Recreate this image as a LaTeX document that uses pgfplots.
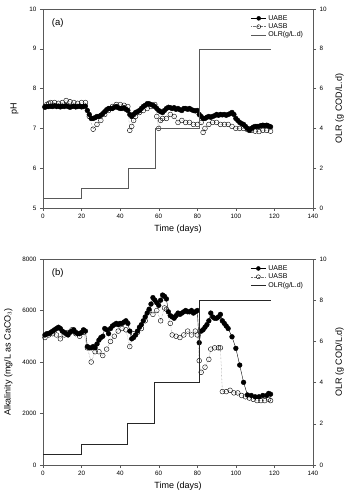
\documentclass[border=0pt]{standalone}
\usepackage{pgfplots}
\pgfplotsset{compat=1.18}
\usepackage{pgfplotstable}
\usepackage{fontspec}
\setmainfont{Liberation Sans}
\pgfplotstableread{
d ph
1 7.53
2 7.55
3 7.55
4 7.56
5 7.55
6 7.57
7 7.55
8 7.56
9 7.54
10 7.56
11 7.55
12 7.57
13 7.55
14 7.53
15 7.55
16 7.56
17 7.54
18 7.55
19 7.56
20 7.54
21 7.55
22 7.56
23 7.45
24 7.35
25 7.25
26 7.25
27 7.27
28 7.3
29 7.3
30 7.33
31 7.37
32 7.42
33 7.47
34 7.5
35 7.5
36 7.5
37 7.53
38 7.55
39 7.52
40 7.5
41 7.5
42 7.52
43 7.48
44 7.45
45 7.35
46 7.3
47 7.35
48 7.4
49 7.42
50 7.45
51 7.5
52 7.55
53 7.58
54 7.62
55 7.62
56 7.6
57 7.58
58 7.55
59 7.5
60 7.45
61 7.42
62 7.4
63 7.45
64 7.5
65 7.53
66 7.52
67 7.5
68 7.52
69 7.48
70 7.5
71 7.47
72 7.45
73 7.5
74 7.5
75 7.48
76 7.5
77 7.47
78 7.45
79 7.44
80 7.45
81 7.35
82 7.3
83 7.25
84 7.25
85 7.28
86 7.3
87 7.28
88 7.3
89 7.32
90 7.35
91 7.33
92 7.35
93 7.34
94 7.35
95 7.33
96 7.35
97 7.37
98 7.4
99 7.35
100 7.25
101 7.2
102 7.15
103 7.12
104 7.1
105 7.05
106 7.0
107 6.95
108 7.0
109 7.03
110 7.05
111 7.05
112 7.05
113 7.07
114 7.08
115 7.07
116 7.08
117 7.06
118 7.04
}\phABE
\pgfplotstableread{
d ph
1 7.55
2 7.6
3 7.63
4 7.65
6 7.65
8 7.63
10 7.65
12 7.7
14 7.67
16 7.65
18 7.63
20 7.65
22 7.65
24 7.3
26 6.98
28 7.1
30 7.2
32 7.35
34 7.45
36 7.55
38 7.6
40 7.6
42 7.58
44 7.55
45 6.95
46 7.05
47 7.2
48 7.3
50 7.4
52 7.45
54 7.5
56 7.55
58 7.6
59 7.3
60 7.0
61 7.2
62 7.25
64 7.25
66 7.35
68 7.3
70 7.15
72 7.2
74 7.15
76 7.15
78 7.1
80 7.1
82 7.15
83 6.9
84 7.0
86 7.1
88 7.15
90 7.15
92 7.1
94 7.1
96 7.1
98 7.05
100 7.0
102 7.0
104 7.0
106 6.97
108 6.95
110 6.93
112 6.92
114 6.95
116 6.95
118 6.93
}\phASB
\pgfplotstableread{
d a
1 5050
2 5100
3 5100
4 5150
5 5200
6 5250
7 5300
8 5350
9 5300
10 5200
11 5150
12 5100
13 5050
14 5150
15 5200
16 5250
17 5150
18 5100
19 5100
20 5150
21 5250
22 5200
23 4600
24 4550
25 4550
26 4600
27 4550
28 4700
29 4850
30 4950
31 5000
32 5300
33 5250
34 5100
35 5300
36 5400
37 5450
38 5500
39 5450
40 5500
41 5500
42 5550
43 5600
44 5500
45 5200
46 4900
47 4950
48 5050
49 5200
50 5350
51 5450
52 5600
53 5750
54 5900
55 6050
56 6250
57 6500
58 6400
59 6300
60 6200
61 6400
62 6600
63 6550
64 6450
65 5950
66 5800
67 5750
68 5700
69 5800
70 5900
71 5850
72 5900
73 5950
74 6000
75 5950
76 5950
77 6000
78 5900
79 5950
80 6000
81 4750
82 5200
83 5250
84 5350
85 5450
86 5600
87 5900
88 5750
89 5700
90 5700
91 5750
92 5850
93 5600
94 5500
95 5400
96 5300
98 4980
100 4530
102 3880
104 3210
106 2720
108 2700
110 2650
112 2650
114 2700
116 2700
117 2780
118 2750
}\alkABE
\pgfplotstableread{
d a
1 4950
3 5050
5 5100
7 5050
9 4900
11 5050
13 5150
15 5250
17 5100
19 5000
21 5150
23 4550
25 4000
27 4400
29 4400
31 4250
33 4500
35 4800
37 5000
39 5200
41 5300
43 5250
45 4600
47 5100
49 5150
51 5300
53 5600
55 6000
57 5850
59 6000
61 5600
63 6100
64 6050
66 5500
67 5050
69 5000
71 4950
73 5050
75 5200
77 5050
79 5200
80 5050
81 4050
82 3600
84 3800
86 4100
87 4500
89 4550
91 4550
92 4550
93 2850
95 2850
97 2900
99 2800
101 2800
103 2700
105 2650
107 2600
109 2550
111 2500
113 2500
115 2500
117 2550
118 2500
}\alkASB
\pgfplotstableread{
d olr
0 0.5
20 0.5
20 1
44 1
44 2
58 2
58 4
81 4
81 8
118 8
}\olr
\pgfplotsset{
  base/.style={scale only axis, width=270pt, xmin=0, xmax=140,
    xtick={0,20,...,140}, tick align=outside, axis line style={black!65}, major tick style={black!65},
    major tick length=3pt,
    tick label style={font=\fontsize{6.3}{7}\selectfont}, label style={font=\fontsize{9}{10}\selectfont},
    /pgf/number format/assume math mode=true, /pgf/number format/1000 sep={}},
  abe/.style={black, thin, mark=*, mark size=2.4pt, mark options={solid, fill=black}},
  asb/.style={black!55, densely dotted, mark=o, mark size=2.4pt, mark options={solid, black, fill=white}},
  leg/.style={legend style={draw=none, fill=none, font=\fontsize{7}{8}\selectfont, at={(0.975,0.985)}, anchor=north east,
    row sep=-2pt, inner sep=1pt}, legend cell align=left,
    legend image code/.code={\draw[##1] (0pt,0pt) -- (15pt,0pt) plot coordinates {(7.5pt,0pt)};}},
}
\begin{document}
\begin{tikzpicture}
\useasboundingbox (0,0) rectangle (349pt,499pt);
% ---------- (a) ----------
\begin{axis}[base, at={(43pt,291pt)}, anchor=south west, height=199pt,
  ymin=5, ymax=10, ytick={5,...,10}, xtick pos=bottom, ytick pos=left,
  ylabel={pH}, ylabel style={yshift=4pt}, xlabel={Time (days)}, xlabel style={yshift=1pt}]
\addplot[asb] table[x=d,y=ph]{\phASB};
\addplot[abe] table[x=d,y=ph]{\phABE};
\node[anchor=north west, font=\fontsize{9.5}{10}\selectfont] at (rel axis cs:0.02,0.97) {(a)};
\end{axis}
\begin{axis}[base, leg, at={(43pt,291pt)}, anchor=south west, height=199pt,
  ymin=0, ymax=10, ytick={0,2,...,10}, axis x line=none, axis y line*=right,
  ylabel={OLR (g COD/L.d)}, ylabel style={yshift=-2pt}]
\addlegendimage{black, thin, mark=*, mark size=2pt, mark options={solid,fill=black}}
\addlegendentry{UABE}
\addlegendimage{black!55, densely dotted, mark=o, mark size=2pt, mark options={solid,black,fill=white}}
\addlegendentry{UASB}
\addplot[black!65, thin, mark=none] table[x=d,y=olr]{\olr};
\addlegendentry{OLR(g/L.d)}
\end{axis}
% ---------- (b) ----------
\begin{axis}[base, at={(43pt,34pt)}, anchor=south west, height=206pt,
  ymin=0, ymax=8000, ytick={0,2000,...,8000}, xtick pos=bottom, ytick pos=left,
  ylabel={Alkalinity (mg/L as CaCO$_3$)}, ylabel style={yshift=3pt},
  xlabel={Time (days)}, xlabel style={yshift=1pt}]
\addplot[asb] table[x=d,y=a]{\alkASB};
\addplot[abe] table[x=d,y=a]{\alkABE};
\node[anchor=north west, font=\fontsize{9.5}{10}\selectfont] at (rel axis cs:0.02,0.97) {(b)};
\end{axis}
\begin{axis}[base, leg, at={(43pt,34pt)}, anchor=south west, height=206pt,
  ymin=0, ymax=10, ytick={0,2,...,10}, axis x line=none, axis y line*=right,
  ylabel={OLR (g COD/L.d)}, ylabel style={yshift=-2pt}]
\addlegendimage{black, thin, mark=*, mark size=2pt, mark options={solid,fill=black}}
\addlegendentry{UABE}
\addlegendimage{black!55, densely dotted, mark=o, mark size=2pt, mark options={solid,black,fill=white}}
\addlegendentry{UASB}
\addplot[black!85, line width=1.1pt, mark=none] table[x=d,y=olr]{\olr};
\addlegendentry{OLR(g/L.d)}
\end{axis}
\end{tikzpicture}
\end{document}
